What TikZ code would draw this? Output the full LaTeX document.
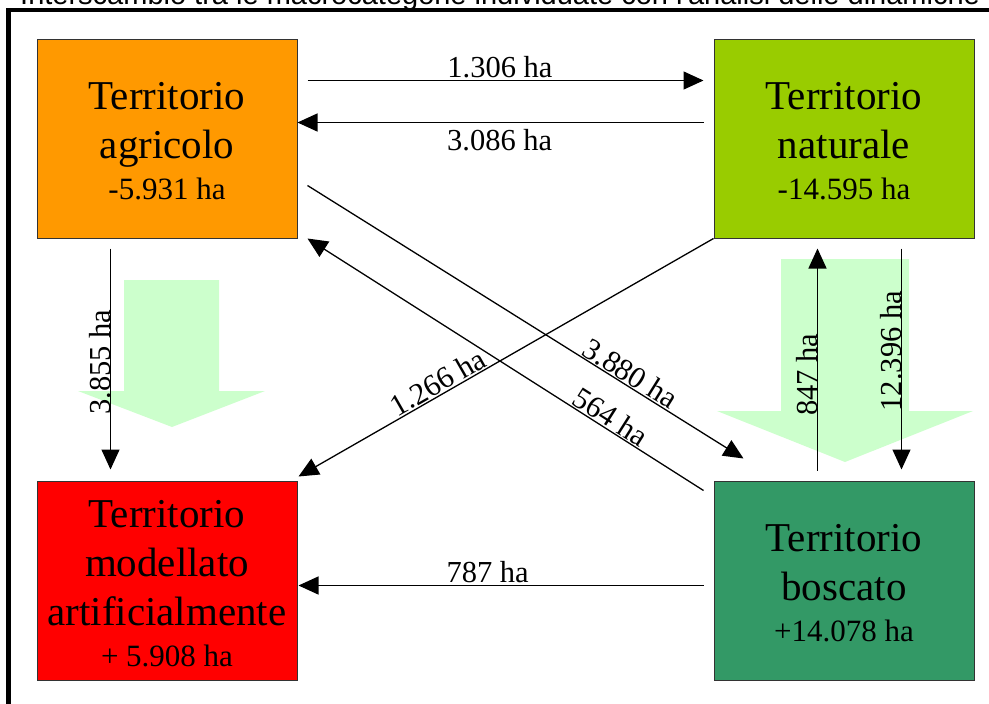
\documentclass[tikz,border=0pt]{standalone}
\usepackage{fontspec}
\setmainfont{Liberation Serif}
\newfontfamily\capfont{Liberation Sans}
\usetikzlibrary{arrows.meta,calc}
\definecolor{cagr}{HTML}{FF9900}
\definecolor{cnat}{HTML}{99CC00}
\definecolor{cmod}{HTML}{FF0000}
\definecolor{cbos}{HTML}{339966}
\definecolor{lgreen}{HTML}{CCFFCC}
\newcommand{\topstrut}{\rule{0pt}{33pt}}
\begin{document}
\begin{tikzpicture}[x=1pt,y=-1pt,
  box/.style={draw=black!80, line width=1pt, minimum width=260pt, minimum height=199pt,
    inner sep=0pt, align=center, font=\fontsize{41}{49}\selectfont, anchor=north west},
  conn/.style={line width=1.3pt, -{Triangle[length=20pt,width=18pt]}},
  lab/.style={font=\fontsize{30.5}{36}\selectfont, inner sep=1pt},
  bigarrow/.style={fill=lgreen, draw=none},
  frame/.style={line width=4.5pt}]
\useasboundingbox (0,0) rectangle (989,704);
% caption (cut off at the top)
\node[anchor=base west, inner sep=0pt, font=\capfont\fontsize{29}{34}\selectfont] (cap) at (20,5)
  {Interscambio tra le macrocategorie individuate con l'analisi delle dinamiche};
% frame
\draw[frame] (8.5,720) -- (8.5,10) -- (1000,10);
% big light green arrows
\fill[bigarrow] (124,280) -- (219,280) -- (219,391) -- (265,391) -- (172,427) -- (78,391) -- (124,391) -- cycle;
\fill[bigarrow] (781,259) -- (909,259) -- (909,411) -- (973,411) -- (845,462) -- (717,411) -- (781,411) -- cycle;
% boxes
\node[box, fill=cagr] (agr) at (36.5,38.5) {\topstrut Territorio\\agricolo\\[-8pt]{\fontsize{31}{41}\selectfont -5.931 ha}};
\node[box, fill=cnat] (nat) at (713.5,38.5) {\topstrut Territorio\\naturale\\[-8pt]{\fontsize{31}{41}\selectfont -14.595 ha}};
\node[box, fill=cmod] (mod) at (36.5,480.5) {\topstrut Territorio\\modellato\\artificialmente\\[-8pt]{\fontsize{31}{41}\selectfont + 5.908 ha}};
\node[box, fill=cbos] (bos) at (713.5,480.5) {\topstrut Territorio\\boscato\\[-8pt]{\fontsize{31}{41}\selectfont +14.078 ha}};
% connectors
\draw[conn] ($(agr.north east)+(10,42)$) -- ($(nat.north west)+(-10,42)$)
  node[lab, pos=0.486, anchor=base, yshift=3pt] (l1) {1.306 ha};
\draw[conn] ($(nat.north west)+(-10,84)$) -- ($(agr.north east)+(0,84)$)
  node[lab, pos=0.502, anchor=base, yshift=-28pt] (l2) {3.086 ha};
\draw[conn] ($(agr.south west)+(74,10)$) -- ($(mod.north west)+(74,-11)$)
  node[lab, pos=0.5, rotate=90, anchor=base, xshift=-3pt] (l3) {3.855 ha};
\draw[conn] ($(bos.north west)+(104,-10)$) -- ($(nat.south west)+(104,10)$)
  node[lab, pos=0.45, rotate=90, anchor=base, xshift=-4pt] (l4) {847 ha};
\draw[conn] ($(nat.south west)+(188,10)$) -- ($(bos.north west)+(188,-11)$)
  node[lab, pos=0.46, rotate=90, anchor=base, xshift=-1pt] (l5) {12.396 ha};
\draw[conn] ($(agr.north east)+(10,147)$) -- ($(bos.north west)+(30,-22)$)
  node[lab, pos=0.726, sloped, above] (l6) {3.880 ha};
\draw[conn] ($(bos.north west)+(-10,10)$) -- ($(agr.south east)+(10,0)$)
  node[lab, pos=0.251, sloped, above] (l7) {564 ha};
\draw[conn] (nat.south west) -- ($(mod.north east)+(1,-4)$)
  node[lab, pos=0.65, sloped, above] (l8) {1.266 ha};
\draw[conn] ($(bos.north west)+(-10,105)$) -- ($(mod.north east)+(1,105)$)
  node[lab, pos=0.533, anchor=base, yshift=3pt] (l9) {787 ha};
\end{tikzpicture}
\end{document}
